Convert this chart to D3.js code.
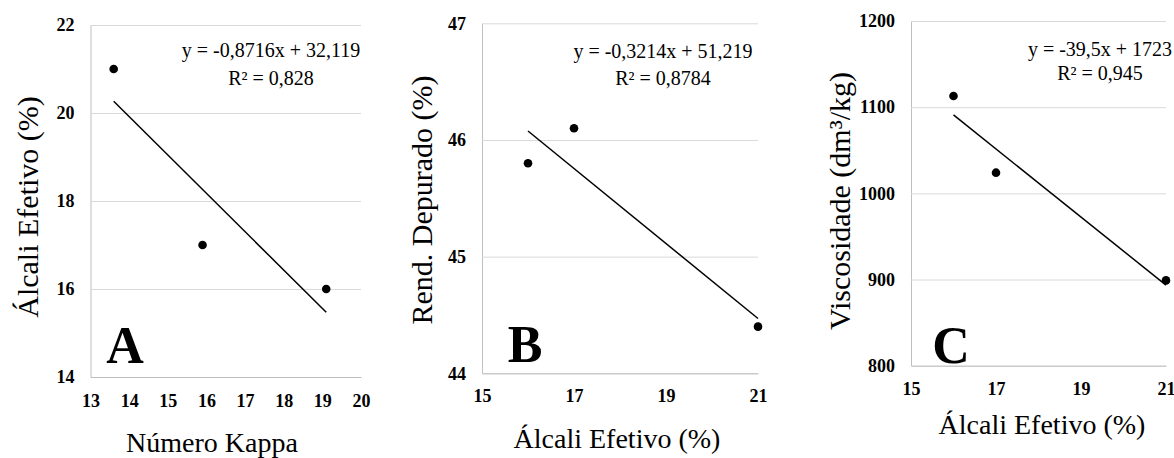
<!DOCTYPE html>
<html>
<head>
<meta charset="utf-8">
<script src="https://cdn.jsdelivr.net/npm/d3@7"></script>
<style>
  body { margin: 0; background: #fff; }
  svg { display: block; font-family: "Liberation Serif", "Times New Roman", serif; }
</style>
</head>
<body>
<main></main>
<script>
// data
const kappaA = [13.6, 15.9, 19.1];
const alcaliA = [21, 17, 16];
const alcaliBC = [16, 17, 21];
const rendB = [45.8, 46.1, 44.4];
const viscC = [1113, 1024, 899];

const xTicksA = [13, 14, 15, 16, 17, 18, 19, 20];
const yTicksA = [14, 16, 18, 20, 22];
const xTicksBC = [15, 17, 19, 21];
const yTicksB = [44, 45, 46, 47];
const yTicksC = [800, 900, 1000, 1100, 1200];

const slopes = [-0.8716, -0.3214, -39.5];
const intercepts = [32.119, 51.219, 1723];
const equations = ["y = -0,8716x + 32,119", "y = -0,3214x + 51,219", "y = -39,5x + 1723"];
const r2Labels = ["R² = 0,828", "R² = 0,8784", "R² = 0,945"];
const panelLetters = ["A", "B", "C"];
const xTitles = ["Número Kappa", "Álcali Efetivo (%)", "Álcali Efetivo (%)"];
const yTitles = ["Álcali Efetivo (%)", "Rend. Depurado (%)", "Viscosidade (dm³/kg)"];

const width = 1174;
const height = 458;
const serif = "Liberation Serif, Times New Roman, serif";

// where each panel sits on the page
const layouts = [
    {left: 90.5, right: 361, top: 25, bottom: 377, xPad: 17, yTitleX: 38, yTitleY: 207, xTitleX: 212, xTitleY: 452, eqX: 271, eqY: 57, r2Y: 85, letterX: 125, letterY: 363},
    {left: 482, right: 758, top: 23.3, bottom: 373.3, xPad: 16, yTitleX: 432, yTitleY: 200, xTitleX: 617, xTitleY: 448, eqX: 663, eqY: 58, r2Y: 85, letterX: 525, letterY: 362},
    {left: 911, right: 1166, top: 21, bottom: 365.7, xPad: 17, yTitleX: 850, yTitleY: 201, xTitleX: 1042, xTitleY: 434, eqX: 1100, eqY: 56, r2Y: 80, letterX: 951, letterY: 363}
];

const createCanvas = () => {
    return d3.select("main")
             .append("svg")
             .attr("width", width)
             .attr("height", height);
};

const styleTicks = (axis) => {
    axis.attr("font-family", null).attr("font-size", null);
    axis.selectAll(".tick text")
        .attr("font-family", serif)
        .attr("font-weight", "bold")
        .attr("font-size", 18)
        .attr("fill", "#000");
};

const drawPanel = (svg, i, xs, ys, xTicks, yTicks) => {
    const L = layouts[i];
    const xScale = d3.scaleLinear()
                     .domain(d3.extent(xTicks))
                     .range([L.left, L.right]);
    const yScale = d3.scaleLinear()
                     .domain(d3.extent(yTicks))
                     .range([L.bottom, L.top]);
    const g = svg.append("g");

    // y axis, its tick lines double as the grid
    const yAxis = g.append("g")
       .attr("transform", `translate(${L.left},0)`)
       .call(d3.axisLeft(yScale)
               .tickValues(yTicks)
               .tickFormat(d3.format("d"))
               .tickSizeInner(-(L.right - L.left))
               .tickSizeOuter(0)
               .tickPadding(16));
    yAxis.selectAll(".tick line").attr("stroke", "#d9d9d9");
    yAxis.select(".domain").attr("stroke", "#bfbfbf");
    styleTicks(yAxis);

    const xAxis = g.append("g")
       .attr("transform", `translate(0,${L.bottom})`)
       .call(d3.axisBottom(xScale)
               .tickValues(xTicks)
               .tickFormat(d3.format("d"))
               .tickSize(0)
               .tickPadding(L.xPad));
    xAxis.select(".domain").attr("stroke", "#bfbfbf");
    styleTicks(xAxis);

    // trend line across the data range
    const x0 = d3.min(xs);
    const x1 = d3.max(xs);
    g.append("line")
     .attr("x1", xScale(x0))
     .attr("y1", yScale(slopes[i] * x0 + intercepts[i]))
     .attr("x2", xScale(x1))
     .attr("y2", yScale(slopes[i] * x1 + intercepts[i]))
     .attr("stroke", "#000")
     .attr("stroke-width", 1.5);

    g.selectAll("circle")
     .data(xs)
     .enter()
     .append("circle")
     .attr("cx", (d) => xScale(d))
     .attr("cy", (d, j) => yScale(ys[j]))
     .attr("r", 4.3)
     .attr("fill", "#000");

    g.append("text")
     .attr("x", L.eqX).attr("y", L.eqY)
     .attr("text-anchor", "middle")
     .attr("font-size", 20)
     .text(equations[i]);
    g.append("text")
     .attr("x", L.eqX).attr("y", L.r2Y)
     .attr("text-anchor", "middle")
     .attr("font-size", 20)
     .text(r2Labels[i]);

    g.append("text")
     .attr("x", L.letterX).attr("y", L.letterY)
     .attr("text-anchor", "middle")
     .attr("font-size", 52)
     .attr("font-weight", "bold")
     .text(panelLetters[i]);

    g.append("text")
     .attr("x", L.xTitleX).attr("y", L.xTitleY)
     .attr("text-anchor", "middle")
     .attr("font-size", 28)
     .text(xTitles[i]);

    g.append("text")
     .attr("transform", `translate(${L.yTitleX},${L.yTitleY}) rotate(-90)`)
     .attr("text-anchor", "middle")
     .attr("font-size", 30)
     .text(yTitles[i]);
};

const driver = () => {
    const svg = createCanvas();
    svg.append("rect").attr("width", width).attr("height", height).attr("fill", "#fff");
    drawPanel(svg, 0, kappaA, alcaliA, xTicksA, yTicksA);
    drawPanel(svg, 1, alcaliBC, rendB, xTicksBC, yTicksB);
    drawPanel(svg, 2, alcaliBC, viscC, xTicksBC, yTicksC);
};

driver();
</script>
</body>
</html>
